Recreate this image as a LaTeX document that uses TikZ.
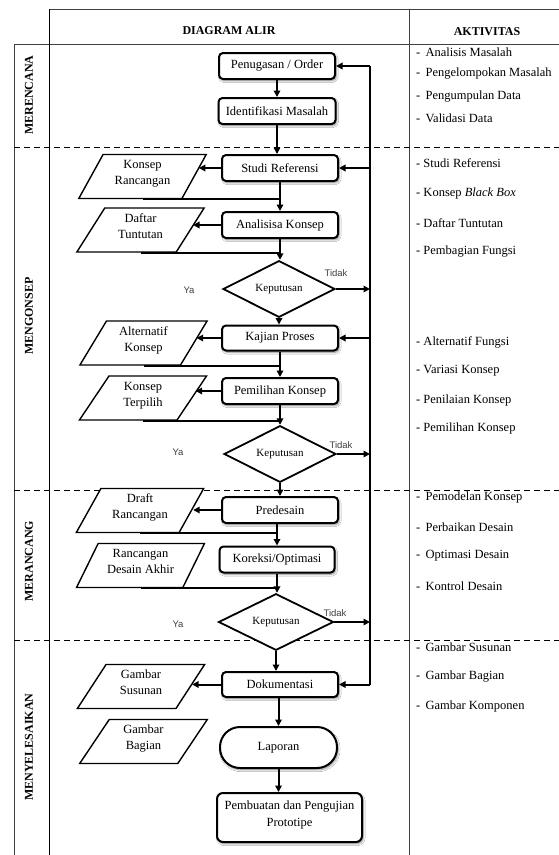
\documentclass[tikz,border=0pt]{standalone}
\usepackage{fontspec}
\setmainfont{Liberation Serif}
\newfontfamily\lsans{Liberation Sans}
\usetikzlibrary{shapes.geometric,arrows.meta,shadows.blur,calc}
\begin{document}
\begin{tikzpicture}[x=1pt,y=-1pt,
  tline/.style={line width=0.9pt, draw=black!75},
  dline/.style={line width=0.9pt, dash pattern=on 6pt off 4pt},
  hdr/.style={font=\bfseries\fontsize{12}{14}\selectfont, inner sep=0pt},
  phase/.style={font=\bfseries\fontsize{12}{14}\selectfont, rotate=90, inner sep=0pt},
  item/.style={font=\fontsize{12.5}{15}\selectfont, anchor=west, inner sep=0pt},
  box/.style={draw, line width=2pt, rounded corners=4pt, fill=white,
    font=\fontsize{12.5}{17}\selectfont, inner sep=0pt, minimum width=116pt,
    minimum height=26pt, align=center,
    blur shadow={shadow xshift=1.2pt, shadow yshift=-1.8pt, shadow blur steps=6, shadow opacity=45}},
  para/.style={trapezium, trapezium left angle=62, trapezium right angle=118,
    trapezium stretches=true, draw, line width=1.4pt, fill=white,
    minimum width=128pt, minimum height=44pt, inner sep=0pt, align=center,
    font=\fontsize{12.5}{16}\selectfont},
  dec/.style={diamond, draw, line width=1.8pt, fill=white, minimum width=112pt,
    minimum height=42pt, inner sep=0pt, font=\fontsize{11}{13}\selectfont},
  yn/.style={font=\lsans\fontsize{9.5}{11}\selectfont, text=black!75, inner sep=0pt},
  flow/.style={line width=2pt},
  arr/.style={line width=2pt, -{Triangle[length=6.5pt,width=6.5pt]}}
]
\fill[white] (0,0) rectangle (559,855);
\useasboundingbox (0,0) rectangle (559,855);

% table
\draw[tline] (49,9) -- (559,9);
\draw[tline] (14,44) -- (559,44);
\draw[tline] (14,44) -- (14,855);
\draw[line width=0.9pt] (49,9) -- (49,855);
\draw[tline] (409,9) -- (409,855);
\draw[dline] (14,147) -- (559,147);
\draw[dline] (14,490) -- (559,490);
\draw[dline] (14,640) -- (559,640);

\node[hdr] (h1) at (229,31) {DIAGRAM ALIR};
\node[hdr] (h2) at (487,32) {AKTIVITAS};

\node[phase] (ph1) at (29,95) {MERENCANA};
\node[phase] (ph2) at (29,316) {MENGONSEP};
\node[phase] (ph3) at (29,561) {MERANCANG};
\node[phase] (ph4) at (29,747) {MENYELESAIKAN};

% activities
\node[item] (a1) at (416,52) {-\, Analisis Masalah};
\node[item] (a2) at (416,74) {-\, Pengelompokan Masalah};
\node[item] (a3) at (416,97) {-\, Pengumpulan Data};
\node[item] (a4) at (416,118) {-\, Validasi Data};
\node[item] (a5) at (416,163) {- Studi Referensi};
\node[item] (a6) at (416,193) {- Konsep \textit{Black Box}};
\node[item] (a7) at (416,223) {- Daftar Tuntutan};
\node[item] (a8) at (416,252) {- Pembagian Fungsi};
\node[item] (a9) at (416,342) {- Alternatif Fungsi};
\node[item] (a10) at (416,371) {- Variasi Konsep};
\node[item] (a11) at (416,400) {- Penilaian Konsep};
\node[item] (a12) at (416,428) {- Pemilihan Konsep};
\node[item] (a13) at (416,497) {-\, Pemodelan Konsep};
\node[item] (a14) at (416,527) {-\, Perbaikan Desain};
\node[item] (a15) at (416,556) {-\, Optimasi Desain};
\node[item] (a16) at (416,586) {-\, Kontrol Desain};
\node[item] (a17) at (416,647) {-\, Gambar Susunan};
\node[item] (a18) at (416,677) {-\, Gambar Bagian};
\node[item] (a19) at (416,706) {-\, Gambar Komponen};

% main flow nodes
\node[box] (pen) at (277,66) {Penugasan / Order};
\node[box, minimum width=117pt] (ident) at (277,111) {Identifikasi Masalah};
\node[box] (studi) at (280,168) {Studi Referensi};
\node[box] (anal) at (280,225) {Analisisa Konsep};
\node[dec] (d1) at (279,289) {Keputusan};
\node[box, minimum height=25pt] (kaj) at (280,338) {Kajian Proses};
\node[box] (pemil) at (280,391) {Pemilihan Konsep};
\node[dec] (d2) at (280,454) {Keputusan};
\node[box] (pred) at (280,510) {Predesain};
\node[box, minimum width=115pt] (kor) at (277,559.5) {Koreksi/Optimasi};
\node[dec, minimum width=115pt] (d3) at (276,622) {Keputusan};
\node[box, minimum height=25pt] (doku) at (280,684.5) {Dokumentasi};
\node[box, minimum width=117pt, minimum height=41pt, rounded corners=20pt] (lap) at (278.5,747.5) {Laporan};
\node[box, minimum width=145pt, minimum height=49pt, rounded corners=6pt] (pemb) at (289.5,817.5) {Pembuatan dan Pengujian\\Prototipe\\[-9pt]};

% documents
\node[para] (kr) at (142.5,176.5) {Konsep\\Rancangan\\[-8pt]};
\node[para] (dt) at (140.5,230) {Daftar\\Tuntutan\\[-8pt]};
\node[para] (ak) at (143.5,343) {Alternatif\\Konsep\\[-8pt]};
\node[para] (kt) at (143,398) {Konsep\\Terpilih\\[-8pt]};
\node[para] (dr) at (140,510.5) {Draft\\Rancangan\\[-8pt]};
\node[para] (rda) at (140.5,565.5) {Rancangan\\Desain Akhir\\[-8pt]};
\node[para] (gs) at (141,686.5) {Gambar\\Susunan\\[-8pt]};
\node[para] (gb) at (143.5,741.5) {Gambar\\Bagian\\[-8pt]};

% labels
\node[yn] (t1) at (336,273) {Tidak};
\node[yn] (t2) at (341,445) {Tidak};
\node[yn] (t3) at (335,613) {Tidak};
\node[yn] (y1) at (189,290) {Ya};
\node[yn] (y2) at (178,452) {Ya};
\node[yn] (y3) at (178,624) {Ya};

\coordinate (fb) at (370,0);

% main arrows
\draw[arr] (pen.south) -- (pen.south |- ident.north);
\draw[arr] (ident.south) -- (ident.south |- studi.north);
\draw[arr] (studi.south) -- (studi.south |- anal.north);
\draw[arr] (anal.south) -- (anal.south |- d1.north);
\draw[arr] (d1.south) -- (d1.south |- kaj.north);
\draw[arr] (kaj.south) -- (kaj.south |- pemil.north);
\draw[arr] (pemil.south) -- (pemil.south |- d2.north);
\draw[arr] (d2.south) -- (d2.south |- pred.north);
\draw[arr] (kor.north |- pred.south) -- (kor.north);
\draw[arr] (kor.south) -- (kor.south |- d3.north);
\draw[arr] (d3.south) -- (d3.south |- doku.north);
\draw[arr] (lap.north |- doku.south) -- (lap.north);
\draw[arr] (lap.south) -- (lap.south |- pemb.north);

% to documents
\draw[arr] (studi.west) -- ([xshift=4pt]studi.west -| kr.east);
\draw[arr] (anal.west) -- ([xshift=2pt]anal.west -| dt.east);
\draw[arr] (kaj.west) -- ([xshift=2pt]kaj.west -| ak.east);
\draw[arr] (pemil.west) -- ([xshift=3pt]pemil.west -| kt.east);
\draw[arr] (pred.west) -- ([xshift=1pt]pred.west -| dr.east);
\draw[arr] (doku.west) -- ([xshift=1pt]doku.west -| gs.east);

% returns from documents
\draw[flow] (kr.south) -- (kr.south -| studi.south);
\draw[flow] (dt.south) -- (dt.south -| anal.south);
\draw[flow] (ak.south) -- (ak.south -| kaj.south);
\draw[flow] (kt.south) -- (kt.south -| pemil.south);
\draw[flow] (dr.south) -- (dr.south -| kor.north);
\draw[flow] (rda.south) -- (rda.south -| kor.south);

% feedback line
\draw[flow] (pen.east -| fb) -- (doku.east -| fb);
\draw[arr] (pen.east -| fb) -- (pen.east);
\draw[arr] (studi.east -| fb) -- (studi.east);
\draw[arr] (kaj.east -| fb) -- (kaj.east);
\draw[arr] (doku.east -| fb) -- (doku.east);
\draw[arr] (d1.east) -- (d1.east -| fb);
\draw[arr] (d2.east) -- (d2.east -| fb);
\draw[arr] (d3.east) -- (d3.east -| fb);
\end{tikzpicture}
\end{document}
